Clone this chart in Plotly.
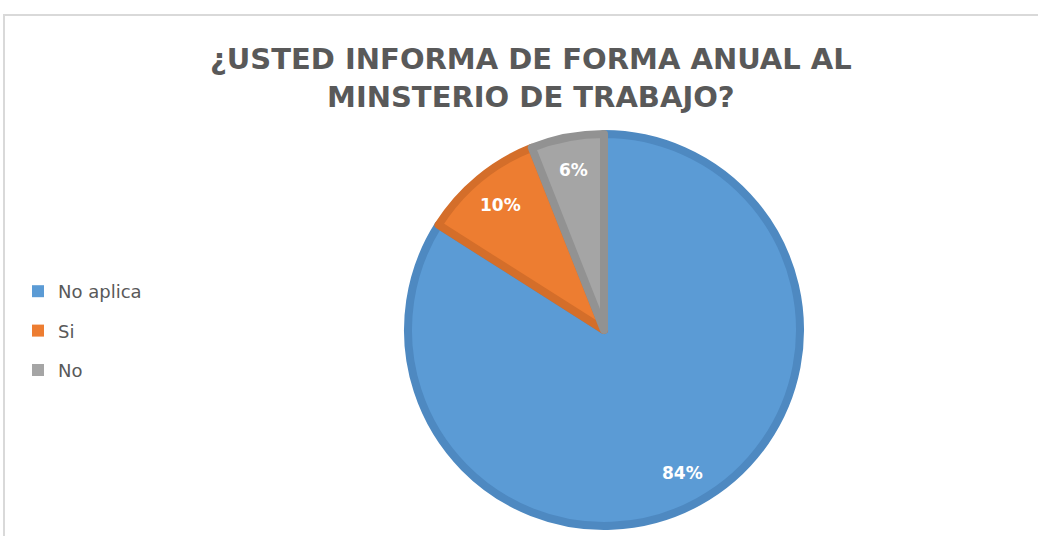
import math
import plotly.graph_objects as go

categories = ["No aplica", "Si", "No"]
values = [84, 10, 6]
fill_colors = ["#5B9BD5", "#ED7D31", "#A5A5A5"]
line_colors = ["#4E89C1", "#D46E2A", "#929292"]
title_text = "¿USTED INFORMA DE FORMA ANUAL AL<br>MINSTERIO DE TRABAJO?"

W, H = 1038, 536
cx, cy, r = 604, 330, 196

fig = go.Figure()
fig.add_trace(go.Pie(
    labels=categories,
    values=values,
    sort=False,
    direction="clockwise",
    rotation=0,
    marker=dict(colors=fill_colors, line=dict(color=line_colors, width=8)),
    textinfo="none",
    domain=dict(x=[(cx - r) / W, (cx + r) / W], y=[1 - (cy + r) / H, 1 - (cy - r) / H]),
    hoverinfo="label+percent",
    showlegend=False,
))

# legend entries (one group each so the spacing can match the reference)
for i, (name, col) in enumerate(zip(categories, fill_colors)):
    fig.add_trace(go.Scatter(
        x=[None], y=[None], mode="markers", name=name,
        marker=dict(symbol="square", size=12, color=col),
        legendgroup=f"g{i}", showlegend=True, hoverinfo="skip",
    ))

# percentage labels placed along each slice's mid-angle
total = sum(values)
annotations = []
cum = 0
for v in values:
    mid = (cum + v / 2) / total * 2 * math.pi
    cum += v
    px = cx + 0.83 * r * math.sin(mid)
    py = cy - 0.83 * r * math.cos(mid)
    annotations.append(dict(
        text=f"{round(v / total * 100)}%", x=px / W, y=1 - py / H,
        xref="paper", yref="paper", showarrow=False,
        xanchor="center", yanchor="middle",
        font=dict(family="DejaVu Sans", size=17, color="white", weight="bold"),
    ))

annotations.append(dict(
    text=title_text, x=531 / W, y=1 - 78 / H, xref="paper", yref="paper",
    xanchor="center", yanchor="middle", showarrow=False,
    font=dict(family="DejaVu Sans", size=29, color="#595959", weight="bold"),
    align="center",
))

fig.update_layout(
    width=W, height=H,
    margin=dict(l=0, r=0, t=0, b=0),
    paper_bgcolor="white",
    plot_bgcolor="rgba(0,0,0,0)",
    xaxis=dict(visible=False),
    yaxis=dict(visible=False),
    showlegend=True,
    legend=dict(
        x=18 / W, y=1 - 273 / H, xanchor="left", yanchor="top",
        font=dict(family="DejaVu Sans", size=18, color="#595959"),
        tracegroupgap=13, itemwidth=30, bgcolor="rgba(0,0,0,0)",
    ),
    annotations=annotations,
    shapes=[dict(
        type="rect", xref="paper", yref="paper",
        x0=4 / W, x1=1.02, y0=-0.02, y1=1 - 15 / H,
        line=dict(color="#D9D9D9", width=2), layer="below",
    )],
)

fig.write_html("out.html", config={"displayModeBar": False},
               post_script="document.body.style.margin='0';")
